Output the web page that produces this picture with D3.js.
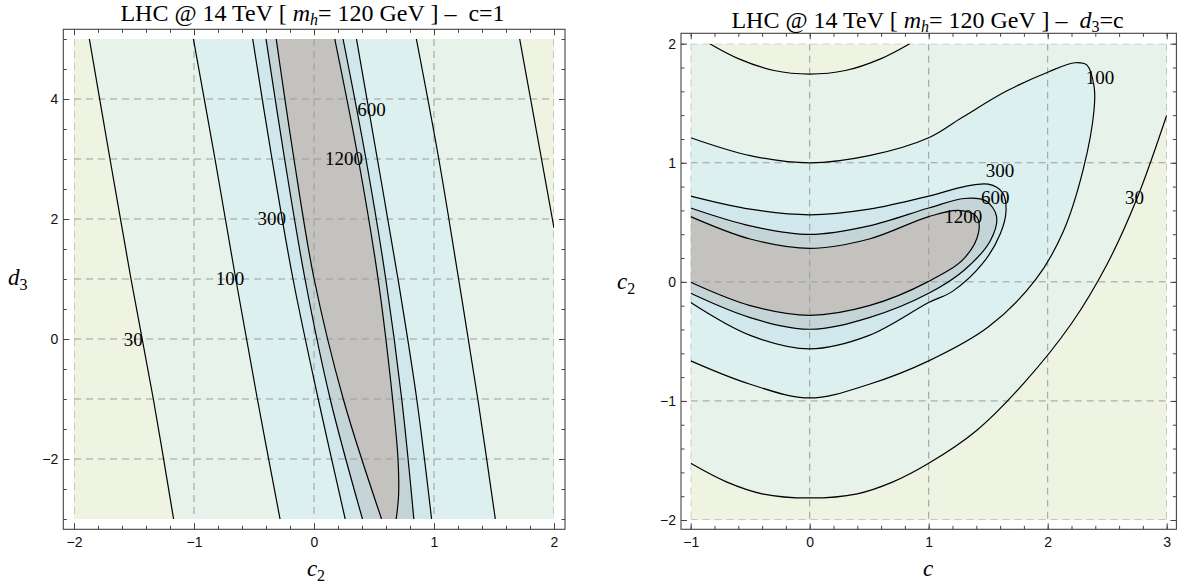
<!DOCTYPE html>
<html><head><meta charset="utf-8">
<script src="https://cdn.jsdelivr.net/npm/d3@7"></script>
<style>body{margin:0;background:#fff}</style>
</head><body><svg id="chart" width="1180" height="584"></svg>
<script>
// ---------- DATA ----------
const levels = [30, 100, 300, 600, 1200];
// Left panel (c = 1): contour curves as [c2, d3] points
const L30a = [[-1.872,5],[-1.70,3],[-1.525,1],[-1.339,-1],[-1.17,-3]];
const L30b = [[1.714,5],[1.805,4],[1.896,3],[2.0,1.85]];
const L100a = [[-1.005,5],[-0.825,3],[-0.652,1],[-0.472,-1],[-0.283,-3]];
const L100b = [[0.853,5],[1.04,3],[1.205,1],[1.365,-1],[1.511,-3]];
const L300a = [[-0.511,5],[-0.35,3],[-0.175,1],[0.035,-1],[0.26,-3]];
const L300b = [[0.354,5],[0.528,3],[0.70,1],[0.856,-1],[0.98,-3]];
const L600a = [[-0.40,5],[-0.245,3],[-0.075,1],[0.135,-1],[0.404,-3]];
const L600b = [[0.242,5],[0.433,3],[0.598,1],[0.731,-1],[0.832,-3]];
const L1200a = [[-0.315,5],[-0.167,3],[0.001,1],[0.244,-1],[0.563,-3]];
const L1200b = [[0.173,5],[0.369,3],[0.534,1],[0.655,-1],[0.70,-2],[0.705,-2.6],[0.685,-3]];
const leftLabels = [["30",-1.506,0],["100",-0.70,1.01],["300",-0.353,2.01],["1200",0.25,3.01],["600",0.48,3.83]];

// Right panel (d3 = c): contour curves as [c, c2] points
const R30top = [[-0.84,2],[-0.6,1.875],[-0.3,1.775],[0,1.745],[0.3,1.775],[0.6,1.875],[0.84,2]];
const R30low = [[-1,-1.524],[-0.7,-1.68],[-0.4,-1.78],[0,-1.815],[0.4,-1.78],[0.7,-1.68],[1,-1.524],[1.4,-1.25],[1.8,-0.85],[2.2,-0.35],[2.5,0.15],[2.75,0.7],[3,1.40]];
const R100 = [[-1,1.21],[-0.5,1.06],[0,1.0],[0.5,1.06],[1,1.21],[1.28,1.38],[1.65,1.6],[2.01,1.765],[2.23,1.84],[2.33,1.82],[2.39,1.64],[2.39,1.45],[2.3,0.95],[2.13,0.42],[1.9,0.02],[1.5,-0.38],[1,-0.664],[0.5,-0.86],[0,-0.975],[-0.5,-0.86],[-1,-0.664]];
const R300 = [[-1,0.72],[-0.5,0.61],[0,0.563],[0.5,0.61],[1,0.72],[1.3,0.8],[1.5,0.82],[1.62,0.75],[1.65,0.6],[1.6,0.4],[1.45,0.15],[1.2,-0.08],[1,-0.174],[0.5,-0.45],[0,-0.563],[-0.5,-0.45],[-1,-0.174]];
const R600 = [[-1,0.62],[-0.5,0.47],[0,0.398],[0.5,0.47],[1,0.62],[1.3,0.7],[1.48,0.68],[1.57,0.55],[1.52,0.35],[1.3,0.1],[1,-0.096],[0.5,-0.3],[0,-0.398],[-0.5,-0.3],[-1,-0.096]];
const R1200 = [[-1,0.548],[-0.5,0.36],[0,0.281],[0.5,0.36],[1,0.548],[1.25,0.6],[1.4,0.55],[1.42,0.42],[1.3,0.2],[1,0.004],[0.5,-0.2],[0,-0.281],[-0.5,-0.2],[-1,-0.004]];
const rightLabels = [["100",2.44,1.72],["300",1.60,0.94],["600",1.56,0.71],["1200",1.29,0.55],["30",2.73,0.71]];

const leftXTicks = [-2,-1,0,1,2];
const leftYTicks = [-2,0,2,4];
const rightXTicks = [-1,0,1,2,3];
const rightYTicks = [-2,-1,0,1,2];

// ---------- STYLE ----------
const fills = ["#eef4e1","#e6f2ea","#dcf0f0","#d0e8ec","#c5d5d7","#c3c2be"];
const serif = "'Liberation Serif','Times New Roman',serif";
const sans = "'Liberation Sans',Arial,sans-serif";
const svg = d3.select("#chart");

function segPath(segs, x, y) {
  let p = "";
  segs.forEach((s, i) => {
    let part;
    if (s.c) part = d3.line().x(d=>x(d[0])).y(d=>y(d[1])).curve(d3.curveCatmullRom.alpha(0.5))(s.c);
    else part = s.l.map((d,j)=>(j===0?"M":"L")+x(d[0])+","+y(d[1])).join("");
    if (i > 0) part = "L" + part.slice(1);
    p += part;
  });
  return p + "Z";
}
function linePath(pts, x, y) {
  return d3.line().x(d=>x(d[0])).y(d=>y(d[1])).curve(d3.curveCatmullRom.alpha(0.5))(pts);
}
const rev = a => a.slice().reverse();

function panel(opt) {
  const {id, x, y, frame, regions, lines, labels, xt, yt, xMinor, yMinor, xGrid, yGrid} = opt;
  const g = svg.append("g");
  const [x0,x1] = x.range(), [y0,y1] = y.range();
  g.append("clipPath").attr("id","clip"+id).append("rect")
    .attr("x",x0).attr("y",y1).attr("width",x1-x0).attr("height",y0-y1);
  const pg = g.append("g").attr("clip-path","url(#clip"+id+")");
  pg.append("rect").attr("x",x0).attr("y",y1).attr("width",x1-x0).attr("height",y0-y1).attr("fill",fills[0]);
  regions.forEach((segs,i)=>pg.append("path").attr("d",segPath(segs,x,y)).attr("fill",fills[i+1]));
  xGrid.forEach(v=>pg.append("line").attr("x1",x(v)).attr("x2",x(v)).attr("y1",y1).attr("y2",y0)
    .attr("stroke","#9c9c9c").attr("stroke-dasharray","7,5").attr("stroke-width",1));
  yGrid.forEach(v=>pg.append("line").attr("y1",y(v)).attr("y2",y(v)).attr("x1",x0).attr("x2",x1)
    .attr("stroke","#9c9c9c").attr("stroke-dasharray","7,5").attr("stroke-width",1));
  lines.forEach(pts=>pg.append("path").attr("d",linePath(pts,x,y)).attr("fill","none")
    .attr("stroke","#000").attr("stroke-width",1.2));
  labels.forEach(([t,a,b])=>g.append("text").attr("x",x(a)).attr("y",y(b)).attr("dy","0.35em")
    .attr("text-anchor","middle").attr("font-family",serif).attr("font-size",19).text(t));
  g.append("rect").attr("x",frame[0]).attr("y",frame[1]).attr("width",frame[2]-frame[0]).attr("height",frame[3]-frame[1])
    .attr("fill","none").attr("stroke","#444").attr("stroke-width",1.1);
  const sides = [
    [d3.axisBottom, `translate(0,${frame[3]})`, x, xt, xMinor, true, 8],
    [d3.axisTop, `translate(0,${frame[1]})`, x, xt, xMinor, false, 8],
    [d3.axisLeft, `translate(${frame[0]},0)`, y, yt, yMinor, true, 5],
    [d3.axisRight, `translate(${frame[2]},0)`, y, yt, yMinor, false, 5]];
  sides.forEach(([mk,tr,sc,maj,min,lab,pad])=>{
    const gm = g.append("g").attr("transform",tr)
      .call(mk(sc).tickValues(min).tickSizeInner(-3.5).tickSizeOuter(0).tickFormat(""));
    gm.select(".domain").remove();
    gm.selectAll("line").attr("stroke","#444");
    const gM = g.append("g").attr("transform",tr)
      .call(mk(sc).tickValues(maj).tickSizeInner(-6).tickSizeOuter(0).tickPadding(pad).tickFormat(lab? d3.format("d") : ""));
    gM.select(".domain").remove();
    gM.selectAll("line").attr("stroke","#444");
    gM.selectAll("text").attr("font-family",sans).attr("font-size",14).attr("fill","#111");
  });
  return g;
}

// ---------- LEFT PANEL ----------
const xL = d3.scaleLinear([-2,2],[74,554]);
const yL = d3.scaleLinear([-3,5],[519,39]);
panel({
  id:"L", x:xL, y:yL, frame:[63.3,29.3,565,529.3],
  regions:[
    [{c:L30a},{l:[[2,-3]]},{c:rev(L30b)}],
    [{c:L100a},{c:rev(L100b)}],
    [{c:L300a},{c:rev(L300b)}],
    [{c:L600a},{c:rev(L600b)}],
    [{c:L1200a},{c:rev(L1200b)}]
  ],
  lines:[L30a,L30b,L100a,L100b,L300a,L300b,L600a,L600b,L1200a,L1200b],
  labels:leftLabels,
  xt:leftXTicks, yt:leftYTicks,
  xMinor:d3.range(-2,2.001,0.2).map(v=>+v.toFixed(2)),
  yMinor:d3.range(-3,5.001,0.5),
  xGrid:[-2,-1,0,1,2], yGrid:[-2,-1,0,1,2,3,4]
});

// ---------- RIGHT PANEL ----------
const xR = d3.scaleLinear([-1,3],[690.7,1166.7]);
const yR = d3.scaleLinear([-2,2],[520,43.7]);
panel({
  id:"R", x:xR, y:yR, frame:[681,33.3,1176.4,529.3],
  regions:[
    [{l:[[-1,2]]},{c:R30top},{l:[[3,2]]},{c:rev(R30low)}],
    [{c:R100}],[{c:R300}],[{c:R600}],[{c:R1200}]
  ],
  lines:[R30top,R30low,R100,R300,R600,R1200],
  labels:rightLabels,
  xt:rightXTicks, yt:rightYTicks,
  xMinor:d3.range(-1,3.001,0.2).map(v=>+v.toFixed(2)),
  yMinor:d3.range(-2,2.001,0.2).map(v=>+v.toFixed(2)),
  xGrid:[-1,0,1,2,3], yGrid:[-2,-1,0,1,2]
});

// ---------- TITLES & AXIS LABELS ----------
function title(cx, by, tail) {
  const t = svg.append("text").attr("x",cx).attr("y",by).attr("text-anchor","middle")
    .attr("font-family",serif).attr("font-size",24).attr("fill","#000");
  t.append("tspan").text("LHC @ 14 TeV [ ");
  t.append("tspan").attr("font-style","italic").text("m");
  t.append("tspan").attr("font-style","italic").attr("font-size",16).attr("dy",4).text("h");
  t.append("tspan").attr("dy",-4).text("= 120 GeV ] \u2013\u00A0\u00A0");
  tail(t);
}
title(312.5, 21, t=>t.append("tspan").text("c=1"));
title(927.5, 28, t=>{
  t.append("tspan").attr("font-style","italic").text("d");
  t.append("tspan").attr("font-size",16).attr("dy",4).text("3");
  t.append("tspan").attr("dy",-4).text("=c");
});
function sublabel(x, y, main, sub, anchor) {
  const t = svg.append("text").attr("x",x).attr("y",y).attr("text-anchor",anchor||"middle")
    .attr("font-family",serif).attr("font-size",23);
  t.append("tspan").attr("font-style","italic").text(main);
  if (sub) t.append("tspan").attr("font-size",16).attr("dy",5).text(sub);
  return t;
}
sublabel(316, 576, "c", "2");
sublabel(928, 576, "c", null);
sublabel(8, 285, "d", "3", "start");
sublabel(617, 289, "c", "2", "start");
</script></body></html>
